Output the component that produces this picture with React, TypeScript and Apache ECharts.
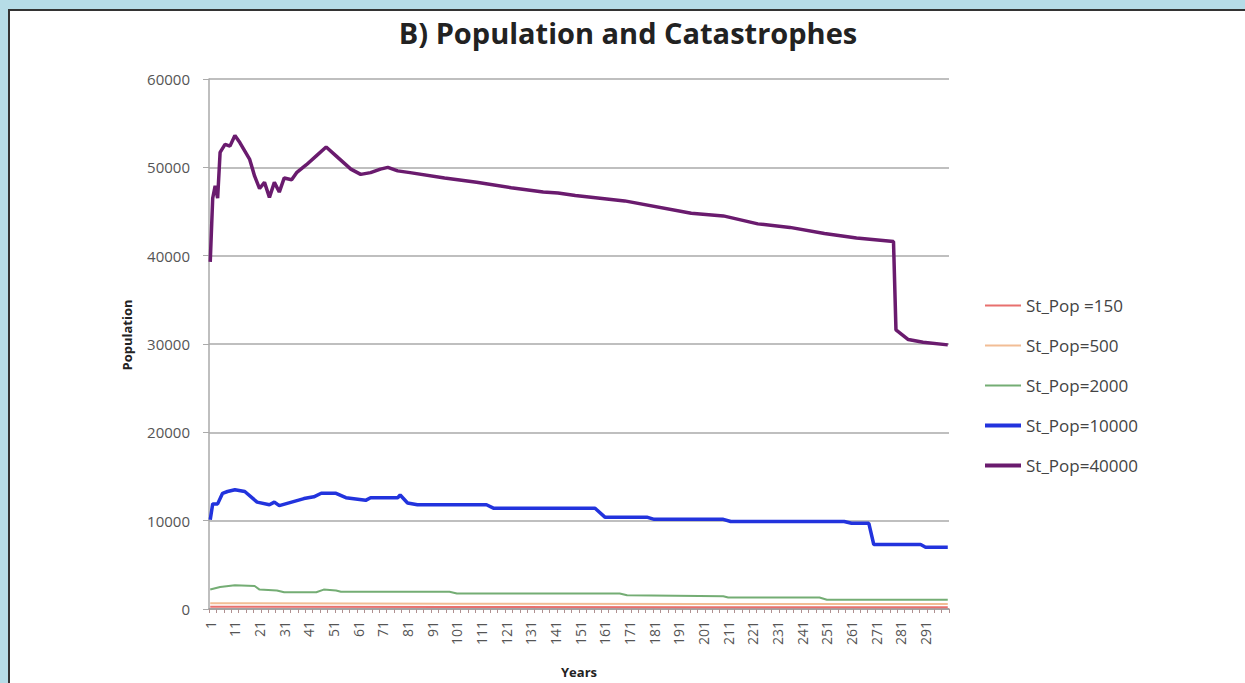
import React, { useEffect, useRef } from "react";
import * as echarts from "echarts";

// X categories: years 1..300
const years: string[] = Array.from({ length: 300 }, (_, i) => String(i + 1));

const yTicks = [0, 10000, 20000, 30000, 40000, 50000, 60000];

// Breakpoints: [year] and [population]
const pop150Years = [1, 100, 200, 300];
const pop150Values = [250, 220, 200, 200];

const pop500Years = [1, 100, 200, 300];
const pop500Values = [650, 600, 580, 560];

const pop2000Years = [1, 5, 11, 19, 21, 28, 31, 44, 47, 52, 54, 98, 101, 167, 170, 209, 211, 248, 251, 300];
const pop2000Values = [2200, 2500, 2700, 2600, 2200, 2100, 1900, 1900, 2200, 2100, 1950, 1950, 1750, 1750, 1550, 1450, 1300, 1300, 1050, 1050];

const pop10000Years = [1, 2, 4, 6, 8, 11, 15, 20, 25, 27, 29, 34, 39, 43, 46, 52, 56, 64, 66, 77, 78, 81, 85, 113, 116, 157, 161, 178, 181, 209, 212, 258, 261, 268, 270, 289, 291, 300];
const pop10000Values = [10100, 11900, 11900, 13100, 13300, 13500, 13300, 12100, 11800, 12100, 11700, 12100, 12500, 12700, 13100, 13100, 12600, 12300, 12600, 12600, 12900, 12000, 11800, 11800, 11400, 11400, 10400, 10400, 10150, 10150, 9900, 9900, 9700, 9700, 7300, 7300, 7000, 7000];

const pop40000Years = [1, 2, 3, 4, 5, 7, 9, 11, 13, 17, 19, 21, 23, 25, 27, 29, 31, 34, 36, 40, 44, 48, 52, 58, 62, 66, 70, 73, 77, 82, 96, 109, 123, 136, 142, 149, 169, 196, 209, 223, 236, 250, 263, 278, 279, 284, 290, 300];
const pop40000Values = [39300, 46500, 47900, 46500, 51700, 52600, 52400, 53600, 52800, 50900, 49000, 47600, 48300, 46600, 48300, 47200, 48800, 48600, 49400, 50300, 51300, 52300, 51300, 49800, 49200, 49400, 49800, 50000, 49600, 49400, 48800, 48300, 47700, 47200, 47100, 46800, 46200, 44800, 44500, 43600, 43200, 42500, 42000, 41600, 31600, 30500, 30200, 29900];

const seriesNames = ["St_Pop =150", "St_Pop=500", "St_Pop=2000", "St_Pop=10000", "St_Pop=40000"];
const seriesColors = ["#e8706e", "#f2bd95", "#74ad74", "#2233dd", "#6a1b6e"];
const seriesWidths = [2, 2, 2, 3.5, 3.5];
const seriesYears = [pop150Years, pop500Years, pop2000Years, pop10000Years, pop40000Years];
const seriesValues = [pop150Values, pop500Values, pop2000Values, pop10000Values, pop40000Values];

export default function App() {
  const ref = useRef<HTMLDivElement>(null);

  useEffect(() => {
    if (!ref.current) return;
    const chart = echarts.init(ref.current, undefined, { renderer: "svg" });
    const font = "'Open Sans', 'Liberation Sans', sans-serif";
    const series = seriesNames.map((name, i) => ({
      name,
      type: "line",
      showSymbol: false,
      symbol: "none",
      z: 2 + i,
      lineStyle: { color: seriesColors[i], width: seriesWidths[i] },
      itemStyle: { color: seriesColors[i] },
      data: seriesYears[i].map((y, k) => [String(y), seriesValues[i][k]]),
    }));
    chart.setOption({
      animation: false,
      backgroundColor: "#ffffff",
      textStyle: { fontFamily: font },
      title: {
        text: "B) Population and Catastrophes",
        left: 613,
        textAlign: "center",
        top: 2,
        textStyle: { fontFamily: font, fontSize: 29, fontWeight: "bold", color: "#222" },
      },
      legend: {
        orient: "vertical",
        left: 970,
        top: 281,
        itemGap: 23,
        itemWidth: 36,
        itemHeight: 16,
        textStyle: { fontFamily: font, fontSize: 17, lineHeight: 17, color: "#444" },
        data: seriesNames.map((n, i) => ({
          name: n,
          icon: seriesWidths[i] > 3 ? "path://M0,0H36V4H0Z" : "path://M0,0H36V2H0Z",
          itemStyle: { color: seriesColors[i] },
        })),
      },
      graphic: [
        {
          type: "text",
          x: 117,
          y: 324,
          rotation: Math.PI / 2,
          style: {
            text: "Population",
            font: `bold 13px ${font}`,
            fill: "#222",
            textAlign: "center",
            textVerticalAlign: "middle",
          },
        },
      ],
      grid: { left: 199, top: 68, width: 740, height: 534 },
      xAxis: {
        type: "category",
        data: years,
        boundaryGap: true,
        name: "Years",
        nameLocation: "middle",
        nameGap: 56,
        nameTextStyle: { fontFamily: font, fontSize: 13, fontWeight: "bold", color: "#222" },
        axisLine: { lineStyle: { color: "#999", width: 1.5 } },
        axisTick: { show: true, interval: 2, length: 4, lineStyle: { color: "#b09090" } },
        axisLabel: { interval: 9, rotate: 90, fontSize: 14, color: "#555", margin: 12, fontFamily: font },
        splitLine: { show: false },
      },
      yAxis: {
        type: "value",
        min: 0,
        max: 60000,
        interval: 10000,
        axisLine: { show: true, lineStyle: { color: "#aaa", width: 1.5 } },
        axisTick: { show: true, length: 6, lineStyle: { color: "#aaa" } },
        axisLabel: {
          fontSize: 15,
          color: "#555",
          margin: 19,
          fontFamily: font,
          formatter: (v: number) => (yTicks.includes(v) ? String(v) : ""),
        },
        splitLine: { show: true, lineStyle: { color: "#aaa", width: 1.5 } },
      },
      series,
    });
    return () => chart.dispose();
  }, []);

  return (
    <div
      style={{
        position: "fixed",
        left: 0,
        top: 0,
        width: 1245,
        height: 683,
        background: "#b6dce7",
        overflow: "hidden",
      }}
    >
      <div
        style={{
          position: "absolute",
          left: 8,
          top: 9,
          width: 1237,
          height: 674,
          borderTop: "2px solid #333",
          borderLeft: "2px solid #333",
          background: "#fff",
        }}
      >
        <div ref={ref} style={{ width: 1235, height: 672 }} />
      </div>
    </div>
  );
}
